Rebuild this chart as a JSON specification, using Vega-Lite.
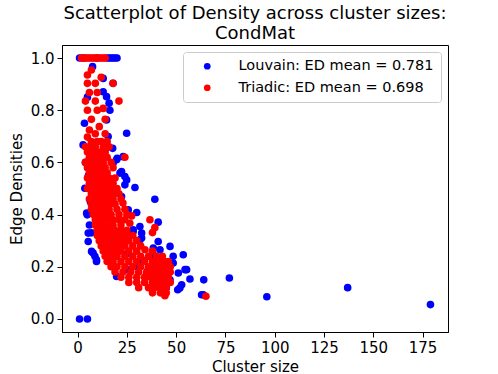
{
"$schema": "https://vega.github.io/schema/vega-lite/v6.json",
"width": 386, "height": 287,
"autosize": {"type": "none"},
"padding": {"left": 62, "top": 45, "right": 50, "bottom": 42},
"background": "white",
"title": {"text": ["Scatterplot of Density across cluster sizes:", "CondMat"], "fontSize": 18, "font": "DejaVu Sans", "fontWeight": "normal", "color": "black", "anchor": "middle", "offset": 2, "lineHeight": 20},
"datasets": {
"pts": [
{"m":"Louvain","x":1,"y":1},{"m":"Louvain","x":3,"y":1},{"m":"Louvain","x":10,"y":1},{"m":"Louvain","x":15,"y":1},{"m":"Louvain","x":16,"y":1},{"m":"Louvain","x":17,"y":1},{"m":"Louvain","x":18,"y":1},{"m":"Louvain","x":19,"y":1},{"m":"Louvain","x":20,"y":1},
{"m":"Louvain","x":1,"y":0},{"m":"Louvain","x":5,"y":0},
{"m":"Louvain","x":7.6,"y":0.967},{"m":"Louvain","x":13,"y":0.922},{"m":"Louvain","x":13,"y":0.871},{"m":"Louvain","x":18,"y":0.903},{"m":"Louvain","x":14.7,"y":0.852},{"m":"Louvain","x":16,"y":0.827},{"m":"Louvain","x":16.4,"y":0.8},{"m":"Louvain","x":14.7,"y":0.763},{"m":"Louvain","x":24.9,"y":0.712},{"m":"Louvain","x":15.5,"y":0.699},{"m":"Louvain","x":2.8,"y":0.667},{"m":"Louvain","x":14.7,"y":0.657},{"m":"Louvain","x":17.8,"y":0.654},{"m":"Louvain","x":20.1,"y":0.616},{"m":"Louvain","x":18,"y":0.597},{"m":"Louvain","x":23.1,"y":0.622},{"m":"Louvain","x":19.8,"y":0.61},{"m":"Louvain","x":3.7,"y":0.501},{"m":"Louvain","x":22.3,"y":0.565},{"m":"Louvain","x":21.5,"y":0.559},{"m":"Louvain","x":24,"y":0.546},{"m":"Louvain","x":24.9,"y":0.533},{"m":"Louvain","x":29.1,"y":0.504},{"m":"Louvain","x":24,"y":0.514},{"m":"Louvain","x":22.3,"y":0.469},{"m":"Louvain","x":39.2,"y":0.459},{"m":"Louvain","x":4.6,"y":0.406},{"m":"Louvain","x":4.9,"y":0.399},{"m":"Louvain","x":25.7,"y":0.418},{"m":"Louvain","x":30,"y":0.408},{"m":"Louvain","x":40.9,"y":0.371},{"m":"Louvain","x":31.6,"y":0.354},{"m":"Louvain","x":32.5,"y":0.329},{"m":"Louvain","x":28.2,"y":0.342},{"m":"Louvain","x":28.2,"y":0.335},{"m":"Louvain","x":5.4,"y":0.329},{"m":"Louvain","x":31.6,"y":0.303},{"m":"Louvain","x":32.5,"y":0.31},{"m":"Louvain","x":5.4,"y":0.297},{"m":"Louvain","x":40.9,"y":0.297},{"m":"Louvain","x":7.1,"y":0.259},{"m":"Louvain","x":7.9,"y":0.253},{"m":"Louvain","x":8.8,"y":0.24},{"m":"Louvain","x":9.6,"y":0.227},{"m":"Louvain","x":9.6,"y":0.22},{"m":"Louvain","x":46.9,"y":0.278},{"m":"Louvain","x":41.8,"y":0.265},{"m":"Louvain","x":38.4,"y":0.272},{"m":"Louvain","x":38.4,"y":0.246},{"m":"Louvain","x":53.6,"y":0.246},{"m":"Louvain","x":48.5,"y":0.24},{"m":"Louvain","x":36.7,"y":0.24},{"m":"Louvain","x":41.8,"y":0.233},{"m":"Louvain","x":43.5,"y":0.22},{"m":"Louvain","x":48.5,"y":0.214},{"m":"Louvain","x":32.5,"y":0.227},{"m":"Louvain","x":35.8,"y":0.189},{"m":"Louvain","x":54.5,"y":0.189},{"m":"Louvain","x":55.3,"y":0.189},{"m":"Louvain","x":51.1,"y":0.176},{"m":"Louvain","x":46.9,"y":0.15},{"m":"Louvain","x":57,"y":0.153},{"m":"Louvain","x":46,"y":0.15},{"m":"Louvain","x":64,"y":0.15},{"m":"Louvain","x":77,"y":0.157},{"m":"Louvain","x":52.8,"y":0.131},{"m":"Louvain","x":51.9,"y":0.119},{"m":"Louvain","x":50.8,"y":0.112},{"m":"Louvain","x":62.9,"y":0.093},{"m":"Louvain","x":63.8,"y":0.093},{"m":"Louvain","x":96,"y":0.085},{"m":"Louvain","x":137,"y":0.12},{"m":"Louvain","x":179,"y":0.055},{"m":"Louvain","x":19.8,"y":0.163},{"m":"Louvain","x":24.9,"y":0.189},{"m":"Louvain","x":6,"y":0.36},{"m":"Louvain","x":7,"y":0.33},{"m":"Louvain","x":6.5,"y":0.45},{"m":"Louvain","x":5.5,"y":0.55},{"m":"Louvain","x":4,"y":0.6},{"m":"Louvain","x":3.5,"y":0.75},{"m":"Louvain","x":5,"y":0.85},{"m":"Louvain","x":10,"y":0.6},{"m":"Louvain","x":12,"y":0.45},{"m":"Louvain","x":15,"y":0.35},{"m":"Louvain","x":20,"y":0.3},{"m":"Louvain","x":25,"y":0.25},{"m":"Louvain","x":30,"y":0.2},{"m":"Louvain","x":35,"y":0.17},{"m":"Louvain","x":40,"y":0.15},{"m":"Louvain","x":45,"y":0.12},
{"m":"Triadic","x":2,"y":1},{"m":"Triadic","x":3,"y":1},{"m":"Triadic","x":4,"y":1},{"m":"Triadic","x":5,"y":1},{"m":"Triadic","x":6,"y":1},{"m":"Triadic","x":7,"y":1},{"m":"Triadic","x":8,"y":1},{"m":"Triadic","x":9,"y":1},{"m":"Triadic","x":10,"y":1},{"m":"Triadic","x":11,"y":1},{"m":"Triadic","x":12,"y":1},{"m":"Triadic","x":13,"y":1},{"m":"Triadic","x":14,"y":1},
{"m":"Triadic","x":7,"y":0.954},{"m":"Triadic","x":5,"y":0.935},{"m":"Triadic","x":12,"y":0.926},
{"m":"Triadic","x":5,"y":0.903},{"m":"Triadic","x":9,"y":0.903},{"m":"Triadic","x":18,"y":0.903},
{"m":"Triadic","x":6,"y":0.868},{"m":"Triadic","x":10,"y":0.868},
{"m":"Triadic","x":4,"y":0.835},{"m":"Triadic","x":9,"y":0.835},{"m":"Triadic","x":21,"y":0.835},
{"m":"Triadic","x":13,"y":0.807},{"m":"Triadic","x":5,"y":0.8},{"m":"Triadic","x":10,"y":0.8},
{"m":"Triadic","x":7,"y":0.765},{"m":"Triadic","x":14,"y":0.765},{"m":"Triadic","x":11,"y":0.737},{"m":"Triadic","x":6,"y":0.724},{"m":"Triadic","x":9,"y":0.71},{"m":"Triadic","x":14,"y":0.71},{"m":"Triadic","x":5,"y":0.697},
{"m":"Triadic","x":7,"y":0.68},{"m":"Triadic","x":10,"y":0.68},{"m":"Triadic","x":12,"y":0.68},{"m":"Triadic","x":15,"y":0.68},
{"m":"Triadic","x":4,"y":0.66},{"m":"Triadic","x":6,"y":0.66},{"m":"Triadic","x":9,"y":0.66},{"m":"Triadic","x":13,"y":0.66},{"m":"Triadic","x":16,"y":0.66},
{"m":"Triadic","x":5,"y":0.64},{"m":"Triadic","x":8,"y":0.64},{"m":"Triadic","x":11,"y":0.64},{"m":"Triadic","x":14,"y":0.64},
{"m":"Triadic","x":6,"y":0.62},{"m":"Triadic","x":9,"y":0.62},{"m":"Triadic","x":12,"y":0.62},{"m":"Triadic","x":15,"y":0.62},{"m":"Triadic","x":24,"y":0.62},
{"m":"Triadic","x":4,"y":0.6},{"m":"Triadic","x":7,"y":0.6},{"m":"Triadic","x":10,"y":0.6},{"m":"Triadic","x":13,"y":0.6},{"m":"Triadic","x":17,"y":0.6},
{"m":"Triadic","x":5,"y":0.58},{"m":"Triadic","x":8,"y":0.58},{"m":"Triadic","x":11,"y":0.58},{"m":"Triadic","x":14,"y":0.58},{"m":"Triadic","x":18,"y":0.58},
{"m":"Triadic","x":6,"y":0.56},{"m":"Triadic","x":9,"y":0.56},{"m":"Triadic","x":12,"y":0.56},{"m":"Triadic","x":15,"y":0.56},
{"m":"Triadic","x":5,"y":0.54},{"m":"Triadic","x":7,"y":0.54},{"m":"Triadic","x":10,"y":0.54},{"m":"Triadic","x":13,"y":0.54},{"m":"Triadic","x":16,"y":0.54},{"m":"Triadic","x":19,"y":0.54},
{"m":"Triadic","x":6,"y":0.52},{"m":"Triadic","x":9,"y":0.52},{"m":"Triadic","x":12,"y":0.52},{"m":"Triadic","x":15,"y":0.52},{"m":"Triadic","x":18,"y":0.52},
{"m":"Triadic","x":5,"y":0.5},{"m":"Triadic","x":8,"y":0.5},{"m":"Triadic","x":11,"y":0.5},{"m":"Triadic","x":14,"y":0.5},{"m":"Triadic","x":17,"y":0.5},{"m":"Triadic","x":20,"y":0.5},
{"m":"Triadic","x":7,"y":0.48},{"m":"Triadic","x":10,"y":0.48},{"m":"Triadic","x":13,"y":0.48},{"m":"Triadic","x":16,"y":0.48},{"m":"Triadic","x":19,"y":0.48},{"m":"Triadic","x":21,"y":0.48},
{"m":"Triadic","x":6,"y":0.46},{"m":"Triadic","x":9,"y":0.46},{"m":"Triadic","x":12,"y":0.46},{"m":"Triadic","x":15,"y":0.46},{"m":"Triadic","x":18,"y":0.46},{"m":"Triadic","x":22,"y":0.46},
{"m":"Triadic","x":7,"y":0.44},{"m":"Triadic","x":10,"y":0.44},{"m":"Triadic","x":13,"y":0.44},{"m":"Triadic","x":16,"y":0.44},{"m":"Triadic","x":19,"y":0.44},{"m":"Triadic","x":23,"y":0.444},
{"m":"Triadic","x":7,"y":0.42},{"m":"Triadic","x":10,"y":0.42},{"m":"Triadic","x":13,"y":0.42},{"m":"Triadic","x":16,"y":0.42},{"m":"Triadic","x":20,"y":0.42},{"m":"Triadic","x":24,"y":0.42},
{"m":"Triadic","x":8,"y":0.4},{"m":"Triadic","x":11,"y":0.4},{"m":"Triadic","x":14,"y":0.4},{"m":"Triadic","x":17,"y":0.4},{"m":"Triadic","x":21,"y":0.4},{"m":"Triadic","x":25,"y":0.4},{"m":"Triadic","x":27.4,"y":0.395},
{"m":"Triadic","x":9,"y":0.38},{"m":"Triadic","x":12,"y":0.38},{"m":"Triadic","x":15,"y":0.38},{"m":"Triadic","x":18,"y":0.38},{"m":"Triadic","x":21,"y":0.38},{"m":"Triadic","x":24,"y":0.38},{"m":"Triadic","x":36.7,"y":0.38},
{"m":"Triadic","x":9,"y":0.36},{"m":"Triadic","x":12,"y":0.36},{"m":"Triadic","x":15,"y":0.36},{"m":"Triadic","x":18,"y":0.36},{"m":"Triadic","x":22,"y":0.36},{"m":"Triadic","x":26.5,"y":0.367},{"m":"Triadic","x":39.2,"y":0.35},
{"m":"Triadic","x":10,"y":0.34},{"m":"Triadic","x":13,"y":0.34},{"m":"Triadic","x":16,"y":0.34},{"m":"Triadic","x":19,"y":0.34},{"m":"Triadic","x":22,"y":0.34},{"m":"Triadic","x":25,"y":0.34},{"m":"Triadic","x":38,"y":0.331},
{"m":"Triadic","x":10,"y":0.32},{"m":"Triadic","x":13,"y":0.32},{"m":"Triadic","x":16,"y":0.32},{"m":"Triadic","x":19,"y":0.32},{"m":"Triadic","x":22,"y":0.32},{"m":"Triadic","x":25,"y":0.32},{"m":"Triadic","x":28,"y":0.32},
{"m":"Triadic","x":11,"y":0.3},{"m":"Triadic","x":14,"y":0.3},{"m":"Triadic","x":17,"y":0.3},{"m":"Triadic","x":20,"y":0.3},{"m":"Triadic","x":23,"y":0.3},{"m":"Triadic","x":26,"y":0.3},{"m":"Triadic","x":30,"y":0.3},
{"m":"Triadic","x":12,"y":0.28},{"m":"Triadic","x":15,"y":0.28},{"m":"Triadic","x":18,"y":0.28},{"m":"Triadic","x":21,"y":0.28},{"m":"Triadic","x":24,"y":0.28},{"m":"Triadic","x":28,"y":0.28},{"m":"Triadic","x":32,"y":0.28},
{"m":"Triadic","x":13,"y":0.26},{"m":"Triadic","x":16,"y":0.26},{"m":"Triadic","x":19,"y":0.26},{"m":"Triadic","x":22,"y":0.26},{"m":"Triadic","x":26,"y":0.26},{"m":"Triadic","x":30,"y":0.26},{"m":"Triadic","x":34.2,"y":0.265},{"m":"Triadic","x":38,"y":0.26},
{"m":"Triadic","x":14,"y":0.24},{"m":"Triadic","x":17,"y":0.24},{"m":"Triadic","x":20,"y":0.24},{"m":"Triadic","x":24,"y":0.24},{"m":"Triadic","x":28,"y":0.24},{"m":"Triadic","x":32,"y":0.24},{"m":"Triadic","x":36,"y":0.24},{"m":"Triadic","x":40,"y":0.24},{"m":"Triadic","x":43,"y":0.24},
{"m":"Triadic","x":15,"y":0.22},{"m":"Triadic","x":18,"y":0.22},{"m":"Triadic","x":22,"y":0.22},{"m":"Triadic","x":26,"y":0.22},{"m":"Triadic","x":30,"y":0.22},{"m":"Triadic","x":34,"y":0.22},{"m":"Triadic","x":38,"y":0.22},{"m":"Triadic","x":41,"y":0.22},{"m":"Triadic","x":44.3,"y":0.22},{"m":"Triadic","x":46,"y":0.22},
{"m":"Triadic","x":17,"y":0.2},{"m":"Triadic","x":20,"y":0.2},{"m":"Triadic","x":24,"y":0.2},{"m":"Triadic","x":28,"y":0.2},{"m":"Triadic","x":32,"y":0.2},{"m":"Triadic","x":36,"y":0.2},{"m":"Triadic","x":39,"y":0.2},{"m":"Triadic","x":42,"y":0.2},{"m":"Triadic","x":45,"y":0.2},{"m":"Triadic","x":47,"y":0.2},
{"m":"Triadic","x":19,"y":0.18},{"m":"Triadic","x":23,"y":0.18},{"m":"Triadic","x":27,"y":0.18},{"m":"Triadic","x":31,"y":0.18},{"m":"Triadic","x":35,"y":0.18},{"m":"Triadic","x":38,"y":0.18},{"m":"Triadic","x":41,"y":0.18},{"m":"Triadic","x":44,"y":0.18},{"m":"Triadic","x":47,"y":0.18},
{"m":"Triadic","x":22,"y":0.16},{"m":"Triadic","x":26,"y":0.16},{"m":"Triadic","x":30,"y":0.16},{"m":"Triadic","x":34,"y":0.16},{"m":"Triadic","x":37,"y":0.16},{"m":"Triadic","x":40,"y":0.16},{"m":"Triadic","x":43,"y":0.16},{"m":"Triadic","x":46,"y":0.16},
{"m":"Triadic","x":26,"y":0.14},{"m":"Triadic","x":30,"y":0.14},{"m":"Triadic","x":34,"y":0.14},{"m":"Triadic","x":38,"y":0.14},{"m":"Triadic","x":41,"y":0.14},{"m":"Triadic","x":44,"y":0.14},{"m":"Triadic","x":47,"y":0.14},
{"m":"Triadic","x":31,"y":0.12},{"m":"Triadic","x":36,"y":0.12},{"m":"Triadic","x":39,"y":0.12},{"m":"Triadic","x":42,"y":0.12},{"m":"Triadic","x":45,"y":0.12},
{"m":"Triadic","x":38,"y":0.1},{"m":"Triadic","x":42,"y":0.1},{"m":"Triadic","x":45,"y":0.1},{"m":"Triadic","x":44.3,"y":0.089},{"m":"Triadic","x":65.1,"y":0.087}
]
},
"data": {"name": "pts"},
"mark": {"type": "circle", "size": 58, "opacity": 1, "strokeWidth": 0},
"encoding": {
  "x": {"field": "x", "type": "quantitative", "scale": {"domain": [-7.9, 187.9], "nice": false, "zero": false}, "axis": {"title": "Cluster size", "values": [0, 25, 50, 75, 100, 125, 150, 175]}},
  "y": {"field": "y", "type": "quantitative", "scale": {"domain": [-0.05, 1.05], "nice": false, "zero": false}, "axis": {"title": "Edge Densities", "values": [0, 0.2, 0.4, 0.6, 0.8, 1.0], "format": ".1f"}},
  "color": {"field": "m", "type": "nominal", "scale": {"domain": ["Louvain", "Triadic"], "range": ["#0000ff", "#ff0000"]},
    "legend": {"title": null, "orient": "top-right", "offset": 7, "labelLimit": 0, "labelExpr": "datum.label == 'Louvain' ? 'Louvain: ED mean = 0.781' : 'Triadic: ED mean = 0.698'", "symbolType": "circle", "symbolSize": 45, "symbolStrokeWidth": 0, "symbolOpacity": 1, "labelFontSize": 14.5, "labelFont": "DejaVu Sans", "labelColor": "black", "padding": 7, "strokeColor": "#cccccc", "fillColor": "white", "cornerRadius": 3, "rowPadding": 6.5, "labelOffset": 24, "symbolOffset": 10}}
},
"config": {
  "view": {"stroke": "black", "strokeWidth": 1},
  "axis": {"domainColor": "black", "tickColor": "black", "labelColor": "black", "titleColor": "black", "labelFont": "DejaVu Sans", "titleFont": "DejaVu Sans", "labelFontSize": 15, "titleFontSize": 15, "titleFontWeight": "normal", "tickSize": 5, "labelPadding": 3, "grid": false, "labelFlush": false, "labelOverlap": false},
  "axisX": {"titlePadding": 4},
  "axisY": {"titlePadding": 6}
}
}
